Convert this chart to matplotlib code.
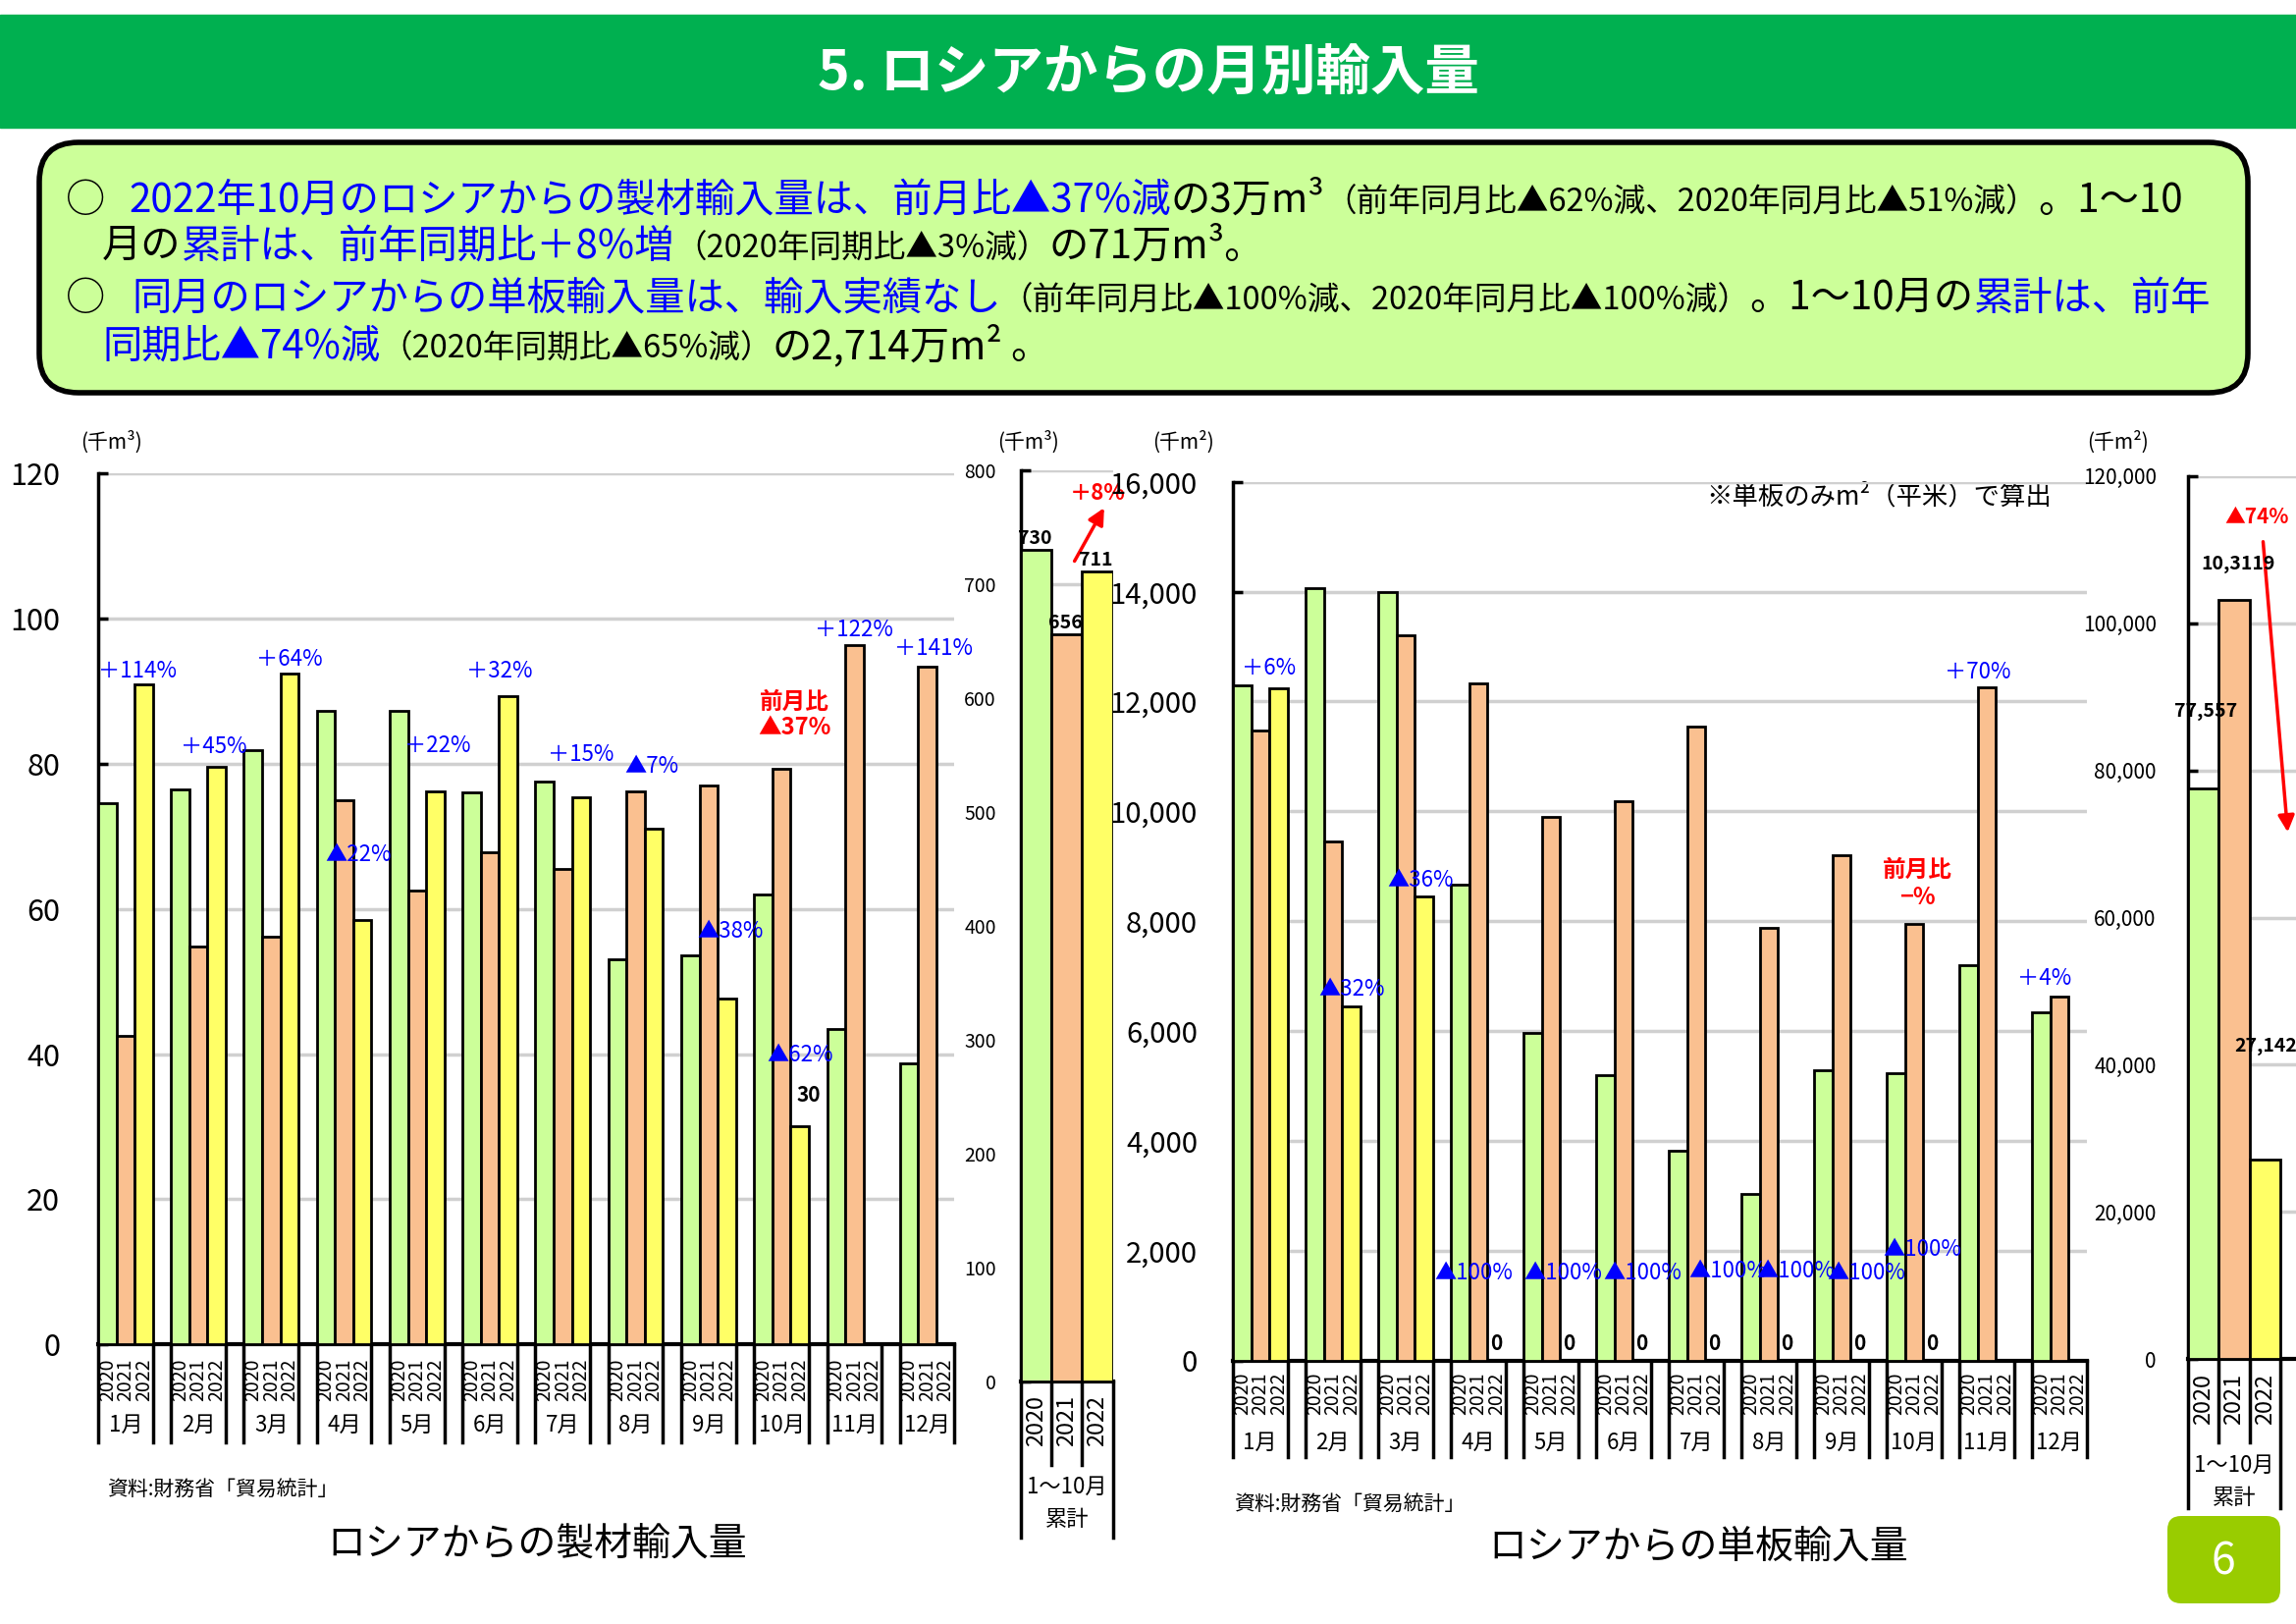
import matplotlib
matplotlib.use('Agg')
import matplotlib.pyplot as plt
from matplotlib.patches import FancyBboxPatch, Rectangle
from matplotlib.lines import Line2D
from matplotlib.transforms import blended_transform_factory

plt.rcParams['font.family'] = ['Noto Sans CJK JP', 'DejaVu Sans']

W, H = 2339, 1654

# ---- data ----
months = ['1月', '2月', '3月', '4月', '5月', '6月', '7月', '8月', '9月', '10月', '11月', '12月']
years = ['2020', '2021', '2022']

# 製材 (千m3)
lumber_2020 = [74.6, 76.5, 81.9, 87.3, 87.3, 76.1, 77.5, 53.1, 53.6, 62.0, 43.4, 38.7]
lumber_2021 = [42.5, 54.8, 56.1, 75.0, 62.5, 67.8, 65.5, 76.2, 77.0, 79.3, 96.3, 93.4]
lumber_2022 = [90.9, 79.6, 92.4, 58.4, 76.2, 89.3, 75.4, 71.0, 47.6, 30.0, None, None]
lumber_yoy = ['＋114%', '＋45%', '＋64%', '▲22%', '＋22%', '＋32%', '＋15%', '▲7%',
              '▲38%', '▲62%', '＋122%', '＋141%']
lumber_cum = [730, 656, 711]
lumber_cum_labels = ['730', '656', '711']

# 単板 (千m2)
veneer_2020 = [12300, 14060, 14000, 8660, 5968, 5200, 3816, 3040, 5280, 5232, 7200, 6336]
veneer_2021 = [11480, 9457, 13212, 12334, 9893, 10179, 11546, 7880, 9194, 7944, 12257, 6624]
veneer_2022 = [12238, 6456, 8448, 0, 0, 0, 0, 0, 0, 0, None, None]
veneer_yoy = ['＋6%', '▲32%', '▲36%', '▲100%', '▲100%', '▲100%', '▲100%', '▲100%',
              '▲100%', '▲100%', '＋70%', '＋4%']
veneer_cum = [77557, 103119, 27142]
veneer_cum_labels = ['77,557', '10,3119', '27,142']

# label placement (data coords)
lumber_yoy_pos = [(0.0, 92.7), (4.5, 82.3), (8.7, 94.4), (12.45, 67.5), (16.8, 82.5), (20.2, 92.7),
                  (24.7, 81.3), (28.9, 79.6), (32.9, 56.9), (36.7, 39.9), (39.3, 98.4), (43.7, 95.8)]
veneer_yoy_pos = [(0.5, 12600), (4.7, 6770), (8.5, 8750), (11.1, 1600), (16.0, 1600), (20.4, 1590),
                  (25.1, 1630), (28.8, 1630), (32.7, 1600), (35.8, 2030), (39.2, 12530), (43.2, 6960)]

colors = ['#CCFF99', '#FAC090', '#FFFF66']
BLUE = '#0000FF'
RED = '#FF0000'
GRID = '#D0D0D0'

fig = plt.figure(figsize=(W / 100, H / 100), dpi=100)
fig.patch.set_facecolor('white')

bg = fig.add_axes([0, 0, 1, 1])
bg.set_xlim(0, W)
bg.set_ylim(H, 0)
bg.axis('off')

# title band
bg.add_patch(Rectangle((0, 15), W, 115, color='#00B050', zorder=1))
bg.text(W / 2, 75, '5. ロシアからの月別輸入量', color='white', fontsize=40, fontweight='bold',
        ha='center', va='center')

# summary box
bg.add_patch(FancyBboxPatch((40, 145), 2250, 255, boxstyle='round,pad=0,rounding_size=40',
                            fc='#CCFF99', ec='black', lw=4, zorder=1))

renderer = fig.canvas.get_renderer()


def put_runs(x, y, runs):
    for s, col, size in runs:
        t = bg.text(x, y, s, color=col, fontsize=size, ha='left', va='baseline', zorder=3)
        x += t.get_window_extent(renderer).width


B, S = 29, 23.5
bg.text(67, 216, '○', fontsize=B, va='baseline', ha='left')
put_runs(131, 216, [('2022年10月のロシアからの製材輸入量は、前月比▲37%減', BLUE, B),
                    ('の3万m³', 'black', B),
                    ('（前年同月比▲62%減、2020年同月比▲51%減）', 'black', S),
                    ('。1～10', 'black', B)])
put_runs(104, 263, [('月の', 'black', B),
                    ('累計は、前年同期比＋8%増', BLUE, B),
                    ('（2020年同期比▲3%減）', 'black', S),
                    ('の71万m³。', 'black', B)])
bg.text(67, 316, '○', fontsize=B, va='baseline', ha='left')
put_runs(134, 316, [('同月のロシアからの単板輸入量は、輸入実績なし', BLUE, B),
                    ('（前年同月比▲100%減、2020年同月比▲100%減）', 'black', S),
                    ('。1～10月の', 'black', B),
                    ('累計は、前年', BLUE, B)])
put_runs(104, 365, [('同期比▲74%減', BLUE, B),
                    ('（2020年同期比▲65%減）', 'black', S),
                    ('の2,714万m²', 'black', B),
                    (' 。', 'black', B)])

# units, notes, titles
bg.text(113, 450, '(千m³)', fontsize=15, ha='center', va='center')
bg.text(1047, 450, '(千m³)', fontsize=15, ha='center', va='center')
bg.text(1205, 450, '(千m²)', fontsize=15, ha='center', va='center')
bg.text(2158, 450, '(千m²)', fontsize=15, ha='center', va='center')
bg.text(1738, 506, '※単板のみm²（平米）で算出', fontsize=19, ha='left', va='center')
bg.text(109, 1517, '資料:財務省「貿易統計」', fontsize=15, ha='left', va='center')
bg.text(1257, 1532, '資料:財務省「貿易統計」', fontsize=15, ha='left', va='center')
bg.text(547, 1574, 'ロシアからの製材輸入量', fontsize=28, ha='center', va='center')
bg.text(1730, 1577, 'ロシアからの単板輸入量', fontsize=28, ha='center', va='center')

# page number
bg.add_patch(FancyBboxPatch((2208, 1544), 115, 89, boxstyle='round,pad=0,rounding_size=14',
                            fc='#99CC00', ec='none', zorder=1))
bg.text(2265, 1590, '6', color='white', fontsize=32, ha='center', va='center')


def style_axes(ax, ymax, yticks, labelsize, pad, fmt):
    ax.patch.set_alpha(0)
    ax.set_ylim(0, ymax)
    ax.set_yticks(yticks)
    ax.set_yticklabels([fmt(v) for v in yticks])
    ax.set_xticks([])
    ax.tick_params(axis='y', direction='in', length=7, width=2.5, labelsize=labelsize, pad=pad)
    ax.yaxis.grid(True, color=GRID, lw=2.5)
    ax.set_axisbelow(True)
    for sp in ('top', 'right'):
        ax.spines[sp].set_visible(False)
    ax.spines['left'].set_linewidth(2.5)
    ax.spines['bottom'].set_linewidth(3)


def vline(ax, x, y0, y1):
    tr = blended_transform_factory(ax.transData, ax.transAxes)
    ax.add_line(Line2D([x, x], [y0, y1], transform=tr, color='black', lw=2.5, clip_on=False))


def monthly(ax, series, y_year, y_month, y_line):
    for j, vals in enumerate(series):
        xs = [i * 4 + j for i, v in enumerate(vals) if v is not None]
        hs = [v for v in vals if v is not None]
        ax.bar(xs, hs, width=1, align='edge', color=colors[j], edgecolor='black', lw=2, zorder=3)
    tr = blended_transform_factory(ax.transData, ax.transAxes)
    for i, m in enumerate(months):
        vline(ax, i * 4, 0, y_line)
        vline(ax, i * 4 + 3, 0, y_line)
        for j, yr in enumerate(years):
            ax.text(i * 4 + j + 0.5, y_year, yr, transform=tr, rotation=90,
                    ha='center', va='center', fontsize=14)
        ax.text(i * 4 + 1.5, y_month, m, transform=tr, ha='center', va='center', fontsize=16)
    ax.set_xlim(0, 47)


def cumulative(ax, vals, y_year, y_line, y_lab1, y_lab2, y_end, xmax):
    ax.bar([0, 1, 2], vals, width=1, align='edge', color=colors, edgecolor='black', lw=2, zorder=3)
    tr = blended_transform_factory(ax.transData, ax.transAxes)
    for x in (1, 2):
        vline(ax, x, 0, y_line)
    vline(ax, 0, 0, y_end)
    vline(ax, 3, 0, y_end)
    for j, yr in enumerate(years):
        ax.text(j + 0.5, y_year, yr, transform=tr, rotation=90, ha='center', va='center', fontsize=17)
    ax.text(1.5, y_lab1, '1～10月', transform=tr, ha='center', va='center', fontsize=16)
    ax.text(1.5, y_lab2, '累計', transform=tr, ha='center', va='center', fontsize=16)
    ax.set_xlim(0, xmax)


# ---- 製材 monthly ----
ax1 = fig.add_axes([0.04275, 0.1721, 0.3730, 0.5366])
style_axes(ax1, 120, list(range(0, 121, 20)), 22, 28, lambda v: f'{v}')
monthly(ax1, [lumber_2020, lumber_2021, lumber_2022], -0.041, -0.092, -0.112)
for s, (x, y) in zip(lumber_yoy, lumber_yoy_pos):
    ax1.text(x, y, s, color=BLUE, fontsize=16, ha='left', va='center', zorder=5)
ax1.text(38.2, 88.5, '前月比', color=RED, fontsize=17, fontweight='bold', ha='center', va='center', zorder=5)
ax1.text(38.2, 84.9, '▲37%', color=RED, fontsize=17, fontweight='bold', ha='center', va='center', zorder=5)
ax1.text(39.0, 34.3, '30', color='black', fontsize=15, fontweight='bold', ha='center', va='center', zorder=5)

# ---- 製材 cumulative ----
ax2 = fig.add_axes([0.4445, 0.1496, 0.0402, 0.5609])
style_axes(ax2, 800, list(range(0, 801, 100)), 14, 18, lambda v: f'{v}')
cumulative(ax2, lumber_cum, -0.0435, -0.092, -0.116, -0.152, -0.172, 3)
for j, s in enumerate(lumber_cum_labels):
    ax2.text(j + 0.45, lumber_cum[j] + 2, s, fontsize=14, fontweight='bold', ha='center', va='bottom', zorder=5)
ax2.text(2.5, 780, '＋8%', color=RED, fontsize=16, fontweight='bold', ha='center', va='center', zorder=5)
ax2.annotate('', xy=(2.76, 769), xytext=(1.71, 718), annotation_clip=False,
             arrowprops=dict(arrowstyle='-|>', color=RED, lw=2.5, mutation_scale=25))

# ---- 単板 monthly ----
ax3 = fig.add_axes([0.5370, 0.1622, 0.3718, 0.5411])
style_axes(ax3, 16000, list(range(0, 16001, 2000)), 21, 26, lambda v: f'{v:,}')
monthly(ax3, [veneer_2020, veneer_2021, veneer_2022], -0.038, -0.093, -0.11)
for s, (x, y) in zip(veneer_yoy, veneer_yoy_pos):
    ax3.text(x, y, s, color=BLUE, fontsize=16, ha='left', va='center', zorder=5)
for i, v in enumerate(veneer_2022):
    if v == 0:
        ax3.text(i * 4 + 2.5, 120, '0', fontsize=15, fontweight='bold', ha='center', va='bottom', zorder=5)
ax3.text(37.7, 8930, '前月比', color=RED, fontsize=17, fontweight='bold', ha='center', va='center', zorder=5)
ax3.text(37.7, 8430, '−%', color=RED, fontsize=17, fontweight='bold', ha='center', va='center', zorder=5)

# ---- 単板 cumulative ----
ax4 = fig.add_axes([0.9528, 0.1631, 0.0472, 0.5438])
style_axes(ax4, 120000, list(range(0, 120001, 20000)), 15, 23, lambda v: f'{v:,}')
cumulative(ax4, veneer_cum, -0.045, -0.094, -0.1197, -0.157, -0.169, 3.5)
cum_lab_pos = [(0.57, 87960), (1.62, 108060), (2.52, 42590)]
for s, (x, y) in zip(veneer_cum_labels, cum_lab_pos):
    ax4.text(x, y, s, fontsize=14, fontweight='bold', ha='center', va='center', zorder=5, clip_on=False)
ax4.text(2.24, 114430, '▲74%', color=RED, fontsize=15, fontweight='bold', ha='center', va='center', zorder=5)
ax4.annotate('', xy=(3.24, 71240), xytext=(2.43, 111440), annotation_clip=False,
             arrowprops=dict(arrowstyle='-|>', color=RED, lw=2.5, mutation_scale=25))

fig.savefig('out.png', dpi=100)
